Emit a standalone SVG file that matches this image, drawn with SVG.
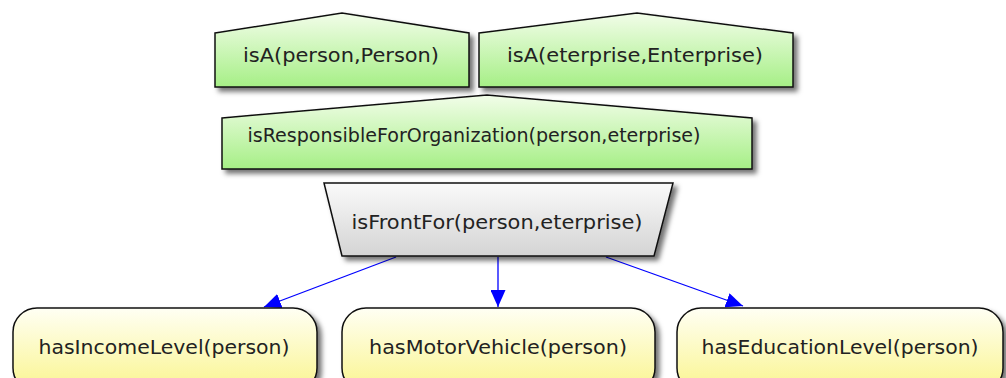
<svg xmlns="http://www.w3.org/2000/svg" width="1006" height="378" viewBox="0 0 1006 378">
<defs>
<linearGradient id="gGreen" x1="0" y1="0" x2="0" y2="1">
<stop offset="0" stop-color="#f2fde9"/>
<stop offset="1" stop-color="#a6ef86"/>
</linearGradient>
<linearGradient id="gGray" x1="0" y1="0" x2="0" y2="1">
<stop offset="0" stop-color="#fafafa"/>
<stop offset="1" stop-color="#d4d4d4"/>
</linearGradient>
<linearGradient id="gYellow" x1="0" y1="0" x2="0" y2="1">
<stop offset="0" stop-color="#fffff4"/>
<stop offset="0.8" stop-color="#fbf7a2"/>
<stop offset="1" stop-color="#f8f396"/>
</linearGradient>
<filter id="shadow" x="-10%" y="-20%" width="125%" height="150%">
<feDropShadow dx="4" dy="4" stdDeviation="2.5" flood-color="#000" flood-opacity="0.55"/>
</filter>
<marker id="arrow" viewBox="0 0 17 15" refX="17" refY="7.5" markerWidth="17" markerHeight="15" markerUnits="userSpaceOnUse" orient="auto">
<path d="M0,0 L17,7.5 L0,15 Z" fill="#0000ff"/>
</marker>
</defs>
<style>
.node { stroke: #111; stroke-width: 1.5; filter: url(#shadow); }
.green { fill: url(#gGreen); }
.gray { fill: url(#gGray); }
.yellow { fill: url(#gYellow); }
.label { font-family: "DejaVu Sans", "Liberation Sans", sans-serif; font-size: 19.5px; fill: #222; text-anchor: middle; }
.edge { stroke: #0000ff; stroke-width: 1.3; fill: none; marker-end: url(#arrow); }
</style>

<g id="connectors">
<line class="edge" x1="396" y1="257" x2="264" y2="307"/>
<line class="edge" x1="498" y1="257" x2="498" y2="307"/>
<line class="edge" x1="606" y1="257" x2="743" y2="306"/>
</g>

<g id="node-isA-person">
<path class="node green" d="M215,33 L342,13 L469,33 L469,87 L215,87 Z"/>
<text class="label" x="341" y="62" textLength="196" lengthAdjust="spacingAndGlyphs">isA(person,Person)</text>
</g>

<g id="node-isA-enterprise">
<path class="node green" d="M479,33 L637,13 L793,33 L793,87 L479,87 Z"/>
<text class="label" x="635" y="62" textLength="256" lengthAdjust="spacingAndGlyphs">isA(eterprise,Enterprise)</text>
</g>

<g id="node-isResponsible">
<path class="node green" d="M222,118 L487,95 L752,118 L752,169 L222,169 Z"/>
<text class="label" x="474" y="142" textLength="453" lengthAdjust="spacingAndGlyphs">isResponsibleForOrganization(person,eterprise)</text>
</g>

<g id="node-isFrontFor">
<path class="node gray" d="M324,183 L673,183 L654,256 L342,256 Z"/>
<text class="label" x="497" y="229" textLength="291" lengthAdjust="spacingAndGlyphs">isFrontFor(person,eterprise)</text>
</g>

<g id="node-hasIncomeLevel">
<rect class="node yellow" x="13" y="308" width="304" height="84" rx="24" ry="24"/>
<text class="label" x="164" y="354" textLength="251" lengthAdjust="spacingAndGlyphs">hasIncomeLevel(person)</text>
</g>

<g id="node-hasMotorVehicle">
<rect class="node yellow" x="342" y="308" width="313" height="84" rx="24" ry="24"/>
<text class="label" x="498" y="354" textLength="258" lengthAdjust="spacingAndGlyphs">hasMotorVehicle(person)</text>
</g>

<g id="node-hasEducationLevel">
<rect class="node yellow" x="677" y="308" width="326" height="84" rx="24" ry="24"/>
<text class="label" x="840" y="354" textLength="277" lengthAdjust="spacingAndGlyphs">hasEducationLevel(person)</text>
</g>
</svg>
